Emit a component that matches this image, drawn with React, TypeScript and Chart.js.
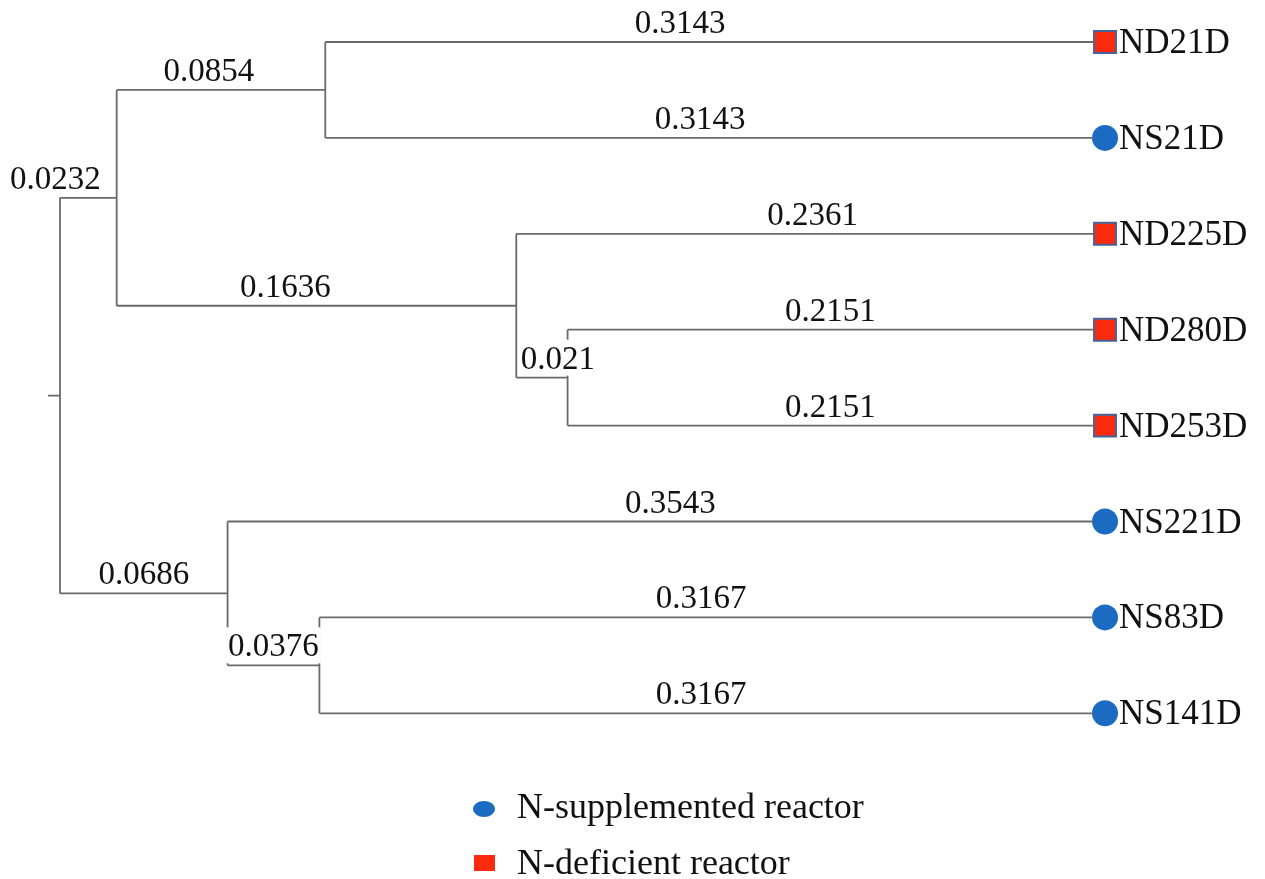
import React, { useEffect, useRef } from 'react';
import { Chart, registerables } from 'chart.js';

Chart.register(...registerables);

// ---- Data (tree in pre-order; parents precede children) ----
const nodeParents = [-1, 0, 1, 2, 2, 1, 5, 5, 7, 7, 0, 10, 10, 12, 12];
const branchLengths = [0, 0.0232, 0.0854, 0.3143, 0.3143, 0.1636, 0.2361, 0.021, 0.2151, 0.2151, 0.0686, 0.3543, 0.0376, 0.3167, 0.3167];
const branchLabels = ['', '0.0232', '0.0854', '0.3143', '0.3143', '0.1636', '0.2361', '0.021', '0.2151', '0.2151', '0.0686', '0.3543', '0.0376', '0.3167', '0.3167'];
const nodeNames = ['', '', '', 'ND21D', 'NS21D', '', 'ND225D', '', 'ND280D', 'ND253D', '', 'NS221D', '', 'NS83D', 'NS141D'];
const leafNames = ['ND21D', 'NS21D', 'ND225D', 'ND280D', 'ND253D', 'NS221D', 'NS83D', 'NS141D'];
const leafGroups = ['ND', 'NS', 'ND', 'ND', 'ND', 'NS', 'NS', 'NS'];
const legendLabels = ['N-supplemented reactor', 'N-deficient reactor'];
const ROOT_STUB = 0.0049;

// ---- Styles ----
const LINE_COLOR = '#6a6a6a';
const BLUE = '#1c6bc3';
const RED = '#fb2a0e';
const SQUARE_BORDER = '#44639a';
const FONT = '"Liberation Serif", "Times New Roman", serif';
// per-branch horizontal label nudges (px)
const labelNudge: Record<number, number> = { 1: -33, 2: -12, 3: -29, 4: -9, 5: -31, 6: 8, 7: 16, 11: 10, 13: -5, 14: -5 };

// ---- Layout derived from tree ----
function layout() {
  const n = nodeParents.length;
  const x = new Array(n).fill(0);
  const y = new Array(n).fill(0);
  const children: number[][] = Array.from({ length: n }, () => []);
  for (let i = 1; i < n; i++) {
    x[i] = x[nodeParents[i]] + branchLengths[i];
    children[nodeParents[i]].push(i);
  }
  for (let i = 0; i < n; i++) {
    if (children[i].length === 0) y[i] = leafNames.indexOf(nodeNames[i]);
  }
  for (let i = n - 1; i >= 0; i--) {
    if (children[i].length > 0) {
      y[i] = children[i].reduce((s, c) => s + y[c], 0) / children[i].length;
    }
  }
  return { x, y, children };
}

// pixel calibration of the hidden axes
const K = 1033 / 0.4229; // px per unit
const X_MIN = -60 / K;
const X_MAX = X_MIN + 1265 / K;
const XM_MIN = X_MIN - 12 / K;
const XM_MAX = XM_MIN + 1265 / K;
const Y_MIN = -42 / 95.9;
const Y_MAX = Y_MIN + 879 / 95.9;

export default function App() {
  const ref = useRef<HTMLCanvasElement | null>(null);

  useEffect(() => {
    if (!ref.current) return;
    const { x, y, children } = layout();
    const n = nodeParents.length;

    const lineDs: any[] = [];
    const seg = (pts: { x: number; y: number }[]) => ({
      type: 'line',
      data: pts,
      borderColor: LINE_COLOR,
      borderWidth: 1.8,
      pointRadius: 0,
      fill: false,
      xAxisID: 'x',
      yAxisID: 'y',
    });
    lineDs.push(seg([{ x: -ROOT_STUB, y: y[0] }, { x: 0, y: y[0] }]));
    for (let i = 1; i < n; i++) {
      lineDs.push(seg([{ x: x[nodeParents[i]], y: y[i] }, { x: x[i], y: y[i] }]));
    }
    for (let i = 0; i < n; i++) {
      if (children[i].length > 0) {
        const ys = children[i].map((c) => y[c]);
        lineDs.push(seg([{ x: x[i], y: Math.min(...ys) }, { x: x[i], y: Math.max(...ys) }]));
      }
    }

    const leafPts = (g: string) =>
      leafNames
        .map((name, li) => ({ name, li }))
        .filter((d) => leafGroups[d.li] === g)
        .map((d) => {
          const idx = nodeNames.indexOf(d.name);
          return { x: x[idx], y: y[idx] };
        });

    const nsDs = {
      type: 'scatter',
      data: leafPts('NS'),
      pointStyle: 'circle',
      pointRadius: 13,
      backgroundColor: BLUE,
      borderColor: BLUE,
      borderWidth: 0,
      xAxisID: 'xm',
      yAxisID: 'y',
    };
    const ndDs = {
      type: 'scatter',
      data: leafPts('ND'),
      pointStyle: 'rect',
      pointRadius: 15.5,
      backgroundColor: RED,
      borderColor: SQUARE_BORDER,
      borderWidth: 2,
      xAxisID: 'xm',
      yAxisID: 'y',
    };

    const textPlugin = {
      id: 'treeText',
      afterDatasetsDraw(chart: any) {
        const ctx = chart.ctx as CanvasRenderingContext2D;
        const xs = chart.scales.x;
        const xm = chart.scales.xm;
        const ys = chart.scales.y;
        ctx.save();
        // branch labels
        ctx.font = `33px ${FONT}`;
        ctx.textAlign = 'left';
        ctx.textBaseline = 'alphabetic';
        for (let i = 1; i < n; i++) {
          const x0 = xs.getPixelForValue(x[nodeParents[i]]);
          const x1 = xs.getPixelForValue(x[i]);
          const py = ys.getPixelForValue(y[i]);
          const txt = branchLabels[i];
          const w = ctx.measureText(txt).width;
          const cx = (x0 + x1) / 2 + (labelNudge[i] || 0);
          const left = cx - w / 2;
          const base = py - 9;
          ctx.fillStyle = '#ffffff';
          ctx.fillRect(left - 2, base - 29, w + 4, 36);
          ctx.fillStyle = '#111111';
          ctx.fillText(txt, left, base);
        }
        // leaf names
        ctx.font = `35px ${FONT}`;
        ctx.fillStyle = '#111111';
        leafNames.forEach((name) => {
          const idx = nodeNames.indexOf(name);
          const px = xm.getPixelForValue(x[idx]) + 14;
          const py = ys.getPixelForValue(y[idx]);
          ctx.fillText(name, px, py + 11);
        });
        // legend
        ctx.fillStyle = BLUE;
        ctx.beginPath();
        ctx.ellipse(484, 809, 11, 8, 0, 0, Math.PI * 2);
        ctx.fill();
        ctx.fillStyle = RED;
        ctx.fillRect(474, 855, 21, 16);
        ctx.fillStyle = '#111111';
        ctx.font = `36px ${FONT}`;
        ctx.fillText(legendLabels[0], 517, 818);
        ctx.fillText(legendLabels[1], 517, 874);
        ctx.restore();
      },
    };

    const chart = new Chart(ref.current, {
      type: 'scatter',
      data: { datasets: [...lineDs, nsDs, ndDs] as any },
      options: {
        animation: false,
        responsive: false,
        layout: { padding: 0, autoPadding: false },
        plugins: { legend: { display: false }, tooltip: { enabled: false } },
        scales: {
          x: { type: 'linear', min: X_MIN, max: X_MAX, display: false },
          xm: { type: 'linear', min: XM_MIN, max: XM_MAX, display: false },
          y: { type: 'linear', min: Y_MIN, max: Y_MAX, reverse: true, display: false },
        },
      } as any,
      plugins: [textPlugin],
    });
    return () => chart.destroy();
  }, []);

  return (
    <div style={{ position: 'absolute', left: 0, top: 0, width: 1265, height: 879, background: '#ffffff' }}>
      <canvas ref={ref} width={1265} height={879} />
    </div>
  );
}
